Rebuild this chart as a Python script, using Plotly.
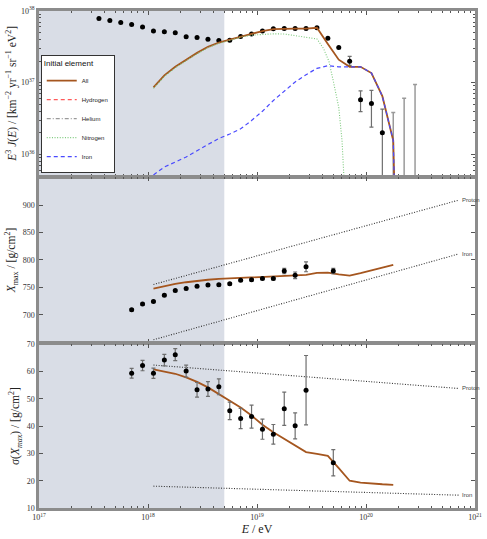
import plotly.graph_objects as go
from plotly.subplots import make_subplots

# ---------------- data ----------------
# Energy spectrum (E^3 J(E))
lgE_flux = [17.55, 17.65, 17.75, 17.85, 17.95, 18.05, 18.15, 18.25, 18.35, 18.45, 18.55,
            18.65, 18.75, 18.85, 18.95, 19.05, 19.15, 19.25, 19.35, 19.45, 19.55, 19.65,
            19.75, 19.85, 19.95, 20.05, 20.15]
flux = [7.83e37, 7.35e37, 6.9e37, 6.47e37, 5.96e37, 5.25e37, 5.13e37, 4.97e37, 4.38e37,
        4.28e37, 4.02e37, 3.86e37, 3.89e37, 4.40e37, 4.77e37, 5.25e37, 5.65e37, 5.71e37,
        5.71e37, 5.71e37, 5.84e37, 4.15e37, 3.09e37, 1.98e37, 5.74e36, 5.1e36, 2.0e36]
flux_err_up = [0, 0, 0, 0, 0, 0, 0, 0, 0, 0, 0, 0, 0, 0, 0, 0, 0, 0, 0, 0, 0, 0, 0,
               3.4e36, 1.9e36, 2.7e36, 2.27e36]
flux_err_dn = [0, 0, 0, 0, 0, 0, 0, 0, 0, 0, 0, 0, 0, 0, 0, 0, 0, 0, 0, 0, 0, 0, 0,
               2.4e36, 1.82e36, 2.72e36, 1.9998e36]
lgE_ul = [20.25, 20.35, 20.45]
flux_ul = [3.83e36, 6.03e36, 9.44e36]

# Model spectra
lgE_model = [18.05, 18.15, 18.25, 18.35, 18.45, 18.55, 18.65, 18.75, 18.85, 18.95, 19.05,
             19.15, 19.25, 19.35, 19.45, 19.55, 19.65, 19.75, 19.85, 19.95, 20.05, 20.15,
             20.25, 20.27]
flux_all = [8.59e36, 1.26e37, 1.66e37, 2.09e37, 2.60e37, 3.16e37, 3.63e37, 3.98e37, 4.37e37,
            4.79e37, 5.25e37, 5.60e37, 5.69e37, 5.69e37, 5.69e37, 5.83e37, 3.47e37, 2.09e37,
            1.66e37, 1.66e37, 1.36e37, 6.46e36, 1.55e36, 1e35]
flux_iron = [5.13e35, 6.61e35, 7.76e35, 9.12e35, 1.12e36, 1.38e36, 1.66e36, 1.91e36, 2.26e36,
             2.95e36, 3.98e36, 5.62e36, 7.59e36, 1.02e37, 1.29e37, 1.58e37, 1.72e37, 1.66e37,
             1.66e37, 1.66e37, 1.36e37, 6.46e36, 1.55e36, 1e35]
lgE_nitro = [18.05, 18.15, 18.25, 18.35, 18.45, 18.55, 18.65, 18.75, 18.85, 18.95, 19.05,
             19.15, 19.25, 19.35, 19.45, 19.55, 19.61, 19.66, 19.70, 19.75, 19.78, 19.80]
flux_nitro = [8.3e36, 1.22e37, 1.61e37, 2.03e37, 2.53e37, 3.07e37, 3.53e37, 3.88e37, 4.3e37,
              4.6e37, 4.75e37, 4.8e37, 4.77e37, 4.5e37, 4.34e37, 4.07e37, 3.0e37, 1.98e37,
              1.05e37, 4.5e36, 1.55e36, 4e35]

# Xmax and sigma(Xmax)
lgE_comp = [17.85, 17.95, 18.05, 18.15, 18.25, 18.35, 18.45, 18.55, 18.65, 18.75, 18.85,
            18.95, 19.05, 19.15, 19.25, 19.35, 19.45, 19.7]
xmax = [709.5, 719.7, 724.6, 735.9, 744.3, 747.9, 752.0, 754.3, 755.0, 756.8, 762.9,
        763.8, 766.2, 766.2, 779.9, 772.1, 787.6, 779.9]
xmax_err = [2, 2, 2, 2, 2, 2, 2, 2, 2, 2, 2, 2, 2, 2.5, 5, 6, 9, 5]
sigma = [59.4, 62.2, 59.4, 64.2, 66.2, 60.2, 53.3, 53.6, 54.4, 45.6, 42.8, 43.5, 38.9,
         37.0, 46.4, 40.1, 53.2, 26.6]
sigma_err = [1.8, 1.9, 1.9, 2.1, 2.2, 2.2, 2.7, 2.7, 2.9, 3.2, 3.7, 4.2, 3.7, 3.6, 6.1,
             4.8, 12.7, 4.8]

lgE_mcomp = [18.05, 18.15, 18.25, 18.35, 18.45, 18.55, 18.65, 18.75, 18.85, 18.95, 19.05,
             19.15, 19.25, 19.35, 19.45, 19.55, 19.65, 19.75, 19.85, 19.95, 20.05, 20.15, 20.25]
xmax_model = [748, 752.5, 756.5, 759.5, 762, 764, 765.5, 766.5, 767.4, 767.9, 768.4, 769.5,
              770.5, 771.5, 773, 776.5, 777, 774, 771.5, 776, 781, 786, 791]
sigma_model = [60.8, 60.0, 59.2, 57.9, 56.2, 54.2, 51.8, 49.2, 46.8, 43.9, 40.5, 37.8, 35.4,
               33.0, 30.5, 29.8, 29.1, 24.6, 20.0, 19.3, 18.9, 18.7, 18.5]

lgE_ref = [18.05, 20.85]
xmax_proton = [755.4, 909]
xmax_ironref = [654.7, 811]
sigma_proton = [62.4, 53.8]
sigma_ironref = [18.0, 14.7]

lgE_shade = [17.0, 18.7]
x_ticks = [17, 18, 19, 20, 21]

# ---------------- styles ----------------
BROWN = "#a5561f"
BLUE = "#4a4aff"
GREEN = "#7cc97c"
RED = "#ff5a5a"
GRAY = "#9a9a9a"
ERR = "#6e6e6e"
FRAME = "#8c8c8c"
SHADE = "#d9dde6"
REF = "#333333"
SERIF = "Liberation Serif"
SANS = "Liberation Sans"

def E(lst):
    return [10.0 ** v for v in lst]

fig = make_subplots(rows=3, cols=1, shared_xaxes=True, vertical_spacing=0.004)

# --- panel 1 ---
fig.add_trace(go.Scatter(x=E(lgE_flux), y=flux, mode="markers",
                         marker=dict(color="black", size=5),
                         error_y=dict(type="data", array=flux_err_up, arrayminus=flux_err_dn,
                                      color=ERR, thickness=1.2, width=2),
                         showlegend=False), row=1, col=1)
fig.add_trace(go.Scatter(x=E(lgE_ul), y=flux_ul, mode="markers",
                         marker=dict(color="rgba(0,0,0,0)", size=1),
                         error_y=dict(type="data", symmetric=False,
                                      array=[0, 0, 0], arrayminus=[v * 0.9999 for v in flux_ul],
                                      color=GRAY, thickness=1.5, width=2),
                         showlegend=False, hoverinfo="skip"), row=1, col=1)
fig.add_trace(go.Scatter(x=E(lgE_model), y=flux_all, mode="lines", name="All",
                         line=dict(color=BROWN, width=1.8)), row=1, col=1)
fig.add_trace(go.Scatter(x=[None], y=[None], mode="lines", name="Hydrogen",
                         line=dict(color=RED, width=1.2, dash="4px,3px")), row=1, col=1)
fig.add_trace(go.Scatter(x=[None], y=[None], mode="lines", name="Helium",
                         line=dict(color=GRAY, width=1.2, dash="4px,2px,1px,2px")), row=1, col=1)
fig.add_trace(go.Scatter(x=E(lgE_nitro), y=flux_nitro, mode="lines", name="Nitrogen",
                         line=dict(color=GREEN, width=1.1, dash="1px,1.6px")), row=1, col=1)
fig.add_trace(go.Scatter(x=E(lgE_model), y=flux_iron, mode="lines", name="Iron",
                         line=dict(color=BLUE, width=1.2, dash="4px,3px")), row=1, col=1)

# --- panel 2 ---
for yv in (xmax_proton, xmax_ironref):
    fig.add_trace(go.Scatter(x=E(lgE_ref), y=yv, mode="lines",
                             line=dict(color=REF, width=1.1, dash="1px,1.6px"),
                             showlegend=False), row=2, col=1)
fig.add_trace(go.Scatter(x=E(lgE_mcomp), y=xmax_model, mode="lines",
                         line=dict(color=BROWN, width=1.8), showlegend=False), row=2, col=1)
fig.add_trace(go.Scatter(x=E(lgE_comp), y=xmax, mode="markers",
                         marker=dict(color="black", size=5),
                         error_y=dict(type="data", array=xmax_err, color=ERR, thickness=1.2, width=2),
                         showlegend=False), row=2, col=1)

# --- panel 3 ---
for yv in (sigma_proton, sigma_ironref):
    fig.add_trace(go.Scatter(x=E(lgE_ref), y=yv, mode="lines",
                             line=dict(color=REF, width=1.1, dash="1px,1.6px"),
                             showlegend=False), row=3, col=1)
fig.add_trace(go.Scatter(x=E(lgE_mcomp), y=sigma_model, mode="lines",
                         line=dict(color=BROWN, width=1.8), showlegend=False), row=3, col=1)
fig.add_trace(go.Scatter(x=E(lgE_comp), y=sigma, mode="markers",
                         marker=dict(color="black", size=5),
                         error_y=dict(type="data", array=sigma_err, color=ERR, thickness=1.2, width=2),
                         showlegend=False), row=3, col=1)

# reference line labels (log axis -> annotation x in log10 units)
for xr, yr, yv, lab in [("x2", "y2", xmax_proton, "Proton"), ("x2", "y2", xmax_ironref, "Iron"),
                        ("x3", "y3", sigma_proton, "Proton"), ("x3", "y3", sigma_ironref, "Iron")]:
    fig.add_annotation(x=lgE_ref[-1], y=yv[-1], xref=xr, yref=yr, text=lab, showarrow=False,
                       xanchor="left", yanchor="middle", xshift=1,
                       font=dict(family=SANS, size=6, color="#444"))

# shaded region
for xr, yr in [("x", "y domain"), ("x2", "y2 domain"), ("x3", "y3 domain")]:
    fig.add_shape(type="rect", xref=xr, yref=yr, x0=10.0 ** lgE_shade[0], x1=10.0 ** lgE_shade[1],
                  y0=0, y1=1, fillcolor=SHADE, line=dict(width=0), layer="below")

axis_common = dict(showline=True, linecolor=FRAME, linewidth=2.5, mirror="allticks",
                   ticks="inside", ticklen=4, tickcolor="#555", showgrid=False, zeroline=False,
                   tickfont=dict(family=SERIF, size=8, color="#333"))

xtext = ["10<sup>%d</sup>" % v for v in x_ticks]
for k in (1, 2, 3):
    fig.update_xaxes(type="log", range=[17, 21], tickmode="array", tickvals=E(x_ticks),
                     ticktext=xtext, showticklabels=(k == 3),
                     minor=dict(ticks="inside", ticklen=2, tickcolor="#555", dtick="D1"),
                     row=k, col=1, **axis_common)

fig.update_xaxes(title=dict(text="<i>E</i> / eV", font=dict(family=SERIF, size=12, color="#222"),
                            standoff=3), row=3, col=1)

fig.update_yaxes(type="log", range=[35.7, 38], tickmode="array", tickvals=[1e36, 1e37, 1e38],
                 ticktext=["10<sup>36</sup>", "10<sup>37</sup>", "10<sup>38</sup>"],
                 minor=dict(ticks="inside", ticklen=2, tickcolor="#555", dtick="D1"),
                 title=dict(text="<i>E</i><sup>3</sup> <i>J</i>(<i>E</i>) / [km<sup>−2</sup> yr<sup>−1</sup> sr<sup>−1</sup> eV<sup>2</sup>]",
                            font=dict(family=SERIF, size=11.5, color="#222"), standoff=3),
                 row=1, col=1, **axis_common)
fig.update_yaxes(range=[650, 950], tickmode="array", tickvals=[700, 750, 800, 850, 900],
                 title=dict(text="<i>X</i><sub>max</sub> / [g/cm<sup>2</sup>]",
                            font=dict(family=SERIF, size=11.5, color="#222"), standoff=5),
                 row=2, col=1, **axis_common)
fig.update_yaxes(range=[10, 70], tickmode="array", tickvals=[10, 20, 30, 40, 50, 60, 70],
                 title=dict(text="σ(<i>X<sub>max</sub></i>) / [g/cm<sup>2</sup>]",
                            font=dict(family=SERIF, size=11.5, color="#222"), standoff=5),
                 row=3, col=1, **axis_common)

fig.update_layout(
    width=487, height=539,
    margin=dict(l=39, r=5, t=9, b=26),
    paper_bgcolor="white", plot_bgcolor="white",
    xaxis=dict(domain=[0, 1]),
    yaxis=dict(domain=[0.6687, 1.0]),
    yaxis2=dict(domain=[0.3333, 0.6647]),
    yaxis3=dict(domain=[0.0, 0.3294]),
    legend=dict(x=0.004, y=0.6746, xanchor="left", yanchor="bottom",
                bgcolor="white", bordercolor="#333", borderwidth=1,
                font=dict(family=SANS, size=6, color="#222"),
                title=dict(text="Initial element", font=dict(family=SANS, size=8, color="#111")),
                tracegroupgap=0, itemwidth=30),
)

fig.write_html("out.html")
